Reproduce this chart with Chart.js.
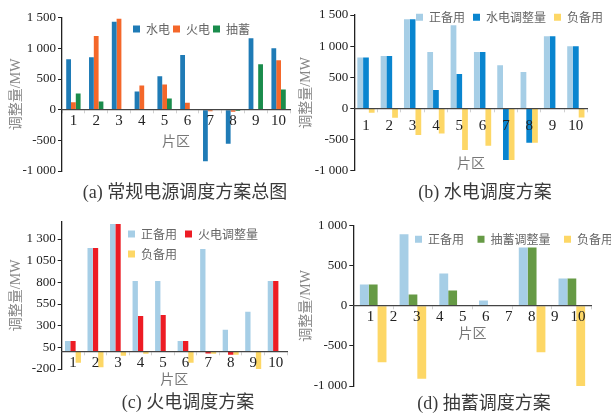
<!DOCTYPE html>
<html>
<head>
<meta charset="utf-8">
<script src="https://cdn.jsdelivr.net/npm/chart.js@4.4.1/dist/chart.umd.min.js"></script>
<style>
  body { margin: 0; background: #fff; }
  #wrap { position: relative; width: 611px; height: 413px; overflow: hidden; }
  canvas { position: absolute; }
  .cap { position: absolute; transform: translate(-50%, -50%); white-space: nowrap;
         font: 18px 'Liberation Serif', 'Noto Sans CJK SC'; color: #3a3a3a; }
</style>
</head>
<body>
<div id="wrap">
  <canvas id="chartA" width="305" height="200" style="left:0;top:0"></canvas>
  <canvas id="chartB" width="321" height="200" style="left:290px;top:0"></canvas>
  <canvas id="chartC" width="305" height="213" style="left:0;top:200px"></canvas>
  <canvas id="chartD" width="321" height="213" style="left:290px;top:200px"></canvas>
  <div class="cap" style="left:185px;top:190px">(a) 常规电源调度方案总图</div>
  <div class="cap" style="left:485px;top:190px">(b) 水电调度方案</div>
  <div class="cap" style="left:188px;top:400px">(c) 火电调度方案</div>
  <div class="cap" style="left:484px;top:401px">(d) 抽蓄调度方案</div>
</div>
<script>
// values (MW)
const regions = ['1', '2', '3', '4', '5', '6', '7', '8', '9', '10'];

// (a) overview
const hydroA   = [824, 857, 1434, 297, 544, 890, -841, -555, 1165, 1000];
const thermalA = [121, 1203, 1484, 396, 412, 115, -25, -35, 0, 808];
const pumpedA  = [264, 132, 0, 0, 181, 0, 0, -20, 740, 330];
const yTicksA  = [-1000, -500, 0, 500, 1000, 1500];

// (b) hydro
const posB   = [818, 840, 1433, 904, 1337, 904, 695, 583, 1160, 1000];
const hydroB = [818, 840, 1433, 294, 551, 904, -829, -551, 1160, 1000];
const negB   = [-70, -150, -428, -401, -668, -599, -829, -551, 0, -144];
const yTicksB = [-1000, -500, 0, 500, 1000, 1500];

// (c) thermal
const posC     = [123, 1196, 1473, 815, 815, 123, 1185, 254, 462, 815];
const thermalC = [123, 1196, 1473, 412, 423, 123, -20, -35, 0, 815];
const negC     = [-127, -181, -46, -23, 0, -127, -23, -35, -212, 0];
const yTicksC  = [-200, 50, 300, 550, 800, 1050, 1300];

// (d) pumped storage: 6 bar groups, but the axis is labelled 1..10
const groupsD  = ['1', '2', '5', '8', '9', '10'];
const posD     = [267, 892, 404, 67, 729, 342];
const pumpedD  = [267, 142, 192, 0, 729, 342];
const negD     = [-704, -908, 0, 0, -579, -1000];
const xTicksD  = [1, 2, 3, 4, 5, 6, 7, 8, 9, 10];
const yTicksD  = [-1000, -500, 0, 500, 1000];

const POS = '#a6cee6', NEG = '#fdd766';
const serif = "'Liberation Serif', 'Noto Sans CJK SC'";

Chart.defaults.font.family = "'Noto Sans CJK SC', sans-serif";
Chart.defaults.animation = false;

function fmt(v) {
  const s = String(Math.abs(v)).replace(/\B(?=(\d{3})+(?!\d))/g, ' ');
  return v < 0 ? '-' + s : s;
}

// the legend sits inside the plot: keep it out of the layout, then move it
const legendPlace = {
  id: 'legendPlace',
  beforeLayout(chart) {
    const lg = chart.legend;
    if (lg && !lg._placed) {
      const fit = lg.fit;
      lg.fit = function () { fit.call(this); this.height = 0; };
      lg._placed = true;
    }
  },
  afterLayout(chart, args, o) {
    const lg = chart.legend;
    const lo = chart.options.plugins.legend;
    const p = lo.labels.padding;
    lg.left = o.x - p;
    lg.width = lo.maxWidth || lg.width;
    lg.right = lg.left + lg.width;
    lg.top = o.y - p - 6;
    lg.height = 80;
    lg.bottom = lg.top + 80;
  }
};

function bars(label, data, color) {
  return { label, data, backgroundColor: color, borderWidth: 0 };
}

function makeChart(id, o) {
  const scales = {
    x: {
      position: { y: 0 },
      offset: true,
      grid: { offset: true, drawOnChartArea: false, tickLength: 3, color: '#d0d0d0' },
      border: { color: '#444', width: 1.3, z: 1 },
      ticks: { display: o.xTicks !== false, autoSkip: false, maxRotation: 0, padding: o.xPad, z: 1,
               color: '#222', font: { family: serif, size: 15 } },
      title: { display: true, text: '片区', color: '#777', font: { size: 14 }, padding: 0 },
      afterFit: s => { s.height = o.titleDrop + 8.4; }
    },
    y: {
      min: o.yMin, max: o.yMax,
      afterBuildTicks: s => { s.ticks = o.yTicks.map(v => ({ value: v })); },
      afterFit: s => { s.width = o.left; },
      grid: { drawOnChartArea: false, tickLength: 4, color: '#222' },
      border: { color: '#222', width: 1.3 },
      ticks: { padding: 2, color: '#222', font: { family: serif, size: 13 }, callback: v => fmt(v) },
      title: { display: true, text: '调整量/MW', color: '#888', font: { family: serif, size: 14 },
               padding: { top: 7.5, bottom: 0 } }
    }
  };
  Object.assign(scales, o.extraScales || {});

  return new Chart(document.getElementById(id), {
    type: 'bar',
    data: { labels: o.labels, datasets: o.datasets },
    plugins: [legendPlace],
    options: {
      responsive: false,
      layout: { padding: o.pad },
      datasets: { bar: { categoryPercentage: o.cat, barPercentage: 1 } },
      plugins: {
        legend: {
          align: 'start',
          maxWidth: o.legendMax,
          labels: { boxWidth: 7, boxHeight: 7, padding: o.legendGap, color: '#666', font: { size: 12 } }
        },
        legendPlace: { x: o.legendX, y: o.legendY },
        tooltip: { enabled: false }
      },
      scales
    }
  });
}

makeChart('chartA', {
  labels: regions,
  datasets: [
    bars('水电', hydroA, '#1f7bb6'),
    bars('火电', thermalA, '#f4672a'),
    bars('抽蓄', pumpedA, '#1a8c4c')
  ],
  yMin: -1000, yMax: 1500, yTicks: yTicksA,
  left: 62, pad: { left: 0, top: 17.7, right: 15, bottom: 29 },
  cat: 0.63, xPad: -1, titleDrop: 31,
  legendX: 133, legendY: 29, legendGap: 3
});

makeChart('chartB', {
  labels: regions,
  datasets: [
    bars('正备用', posB, POS),
    bars('水电调整量', hydroB, '#0985cf'),
    bars('负备用', negB, NEG)
  ],
  yMin: -1000, yMax: 1500, yTicks: yTicksB,
  left: 64.3, pad: { left: 0, top: 15, right: 23.5, bottom: 29.3 },
  cat: 0.74, xPad: 6, titleDrop: 54,
  legendX: 126, legendY: 17.3, legendGap: 8
});

makeChart('chartC', {
  labels: regions,
  datasets: [
    bars('正备用', posC, POS),
    bars('火电调整量', thermalC, '#ed1c24'),
    bars('负备用', negC, NEG)
  ],
  yMin: -200, yMax: 1500, yTicks: yTicksC,
  left: 61.7, pad: { left: 0, top: 21.7, right: 18, bottom: 44 },
  cat: 0.71, xPad: -1, titleDrop: 26.7,
  legendX: 128, legendY: 34, legendGap: 8, legendMax: 150
});

makeChart('chartD', {
  labels: groupsD,
  datasets: [
    bars('正备用', posD, POS),
    bars('抽蓄调整量', pumpedD, '#669a45'),
    bars('负备用', negD, NEG)
  ],
  yMin: -1000, yMax: 1000, yTicks: yTicksD,
  left: 63.3, pad: { left: 0, top: 25.7, right: 19.3, bottom: 27 },
  cat: 0.67, xTicks: false, titleDrop: 27,
  legendX: 125, legendY: 39.3, legendGap: 13.5,
  extraScales: {
    x2: {
      type: 'linear', position: { y: 0 }, min: 0.25, max: 10.6, offset: false,
      afterBuildTicks: s => { s.ticks = xTicksD.map(v => ({ value: v })); },
      afterFit: s => { s.height = 0; },
      grid: { display: false, drawTicks: false, offset: false },
      border: { display: false },
      ticks: { padding: 2, autoSkip: false, maxRotation: 0, z: 1, color: '#222',
               font: { family: serif, size: 15 } }
    }
  }
});
</script>
</body>
</html>
